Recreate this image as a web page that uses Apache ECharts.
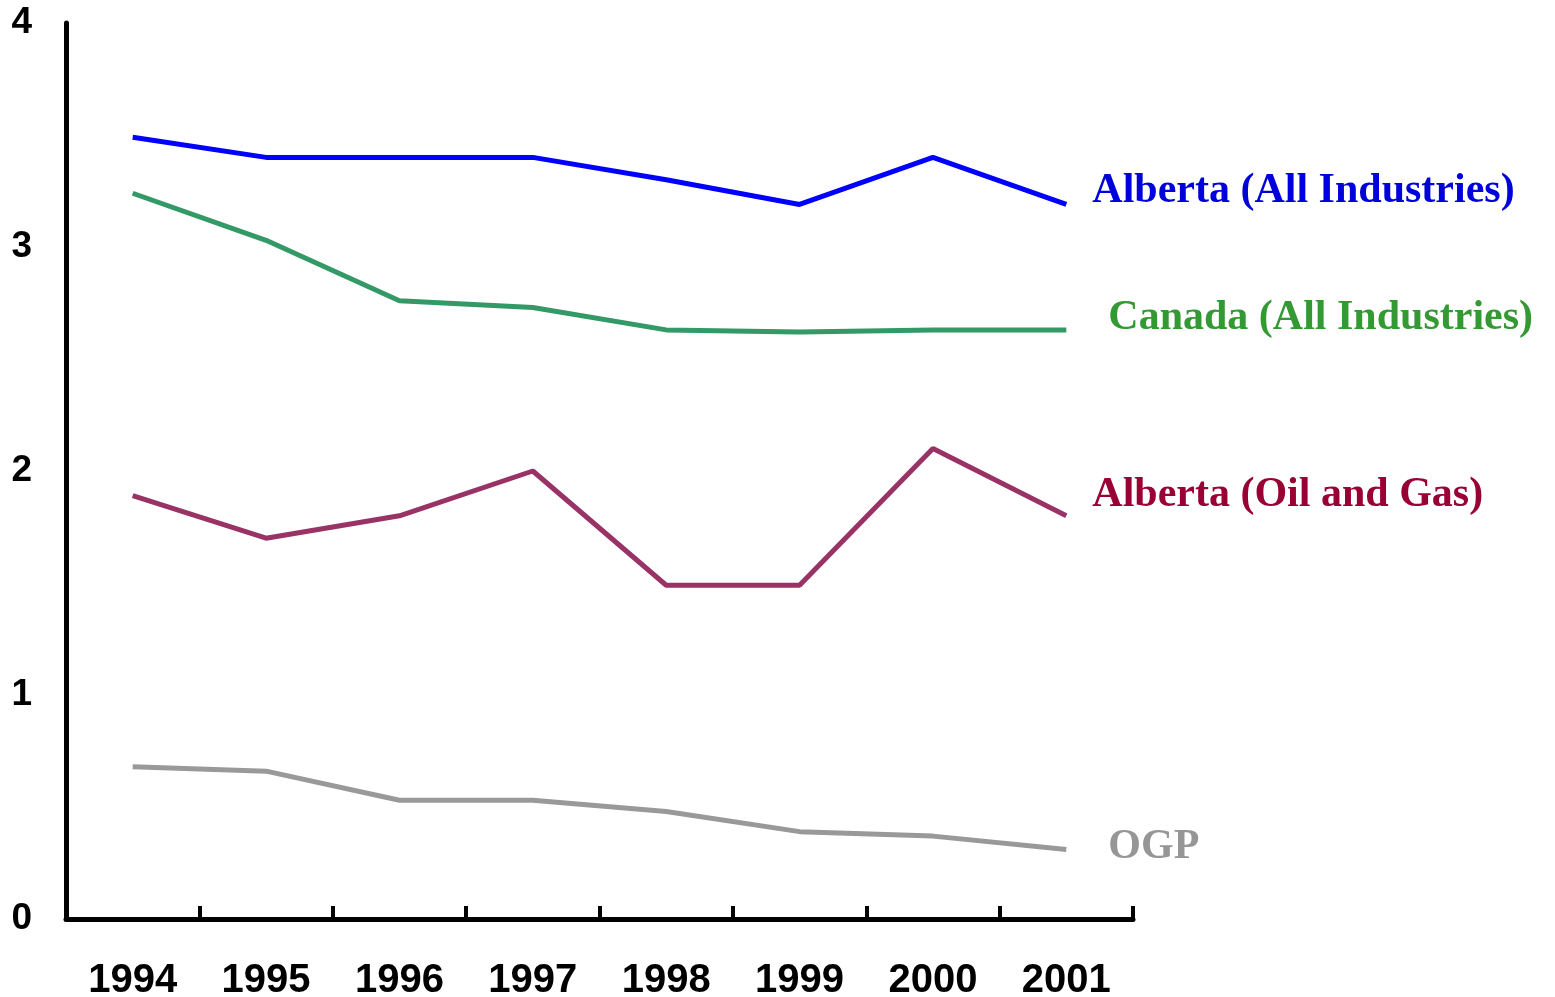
<!DOCTYPE html>
<html>
<head>
<meta charset="utf-8">
<script src="https://cdn.jsdelivr.net/npm/echarts@6/dist/echarts.min.js"></script>
<style>
html,body{margin:0;padding:0;background:#fff;}
#chart{width:1555px;height:997px;}
</style>
</head>
<body>
<div id="chart"></div>
<script>
const years = ['1994','1995','1996','1997','1998','1999','2000','2001'];
const albertaAll = [3.49, 3.40, 3.40, 3.40, 3.30, 3.19, 3.40, 3.19];
const canadaAll = [3.24, 3.03, 2.76, 2.73, 2.63, 2.62, 2.63, 2.63];
const albertaOG = [1.89, 1.70, 1.80, 2.00, 1.49, 1.49, 2.10, 1.80];
const ogp = [0.68, 0.66, 0.53, 0.53, 0.48, 0.39, 0.37, 0.31];

const names = ['Alberta (All Industries)', 'Canada (All Industries)', 'Alberta (Oil and Gas)', 'OGP'];
const lineColors = ['#0000ff', '#339966', '#993366', '#999999'];
const labelColors = ['#0000dd', '#339933', '#990033', '#969696'];
const offsets = [[26, -13], [42, -12], [26, -21], [42, -2]];
const datasets = [albertaAll, canadaAll, albertaOG, ogp];

const chart = echarts.init(document.getElementById('chart'));
chart.setOption({
  animation: false,
  grid: {left: 66, right: 422, top: 23, bottom: 78, containLabel: false, outerBoundsMode: 'none'},
  xAxis: {
    type: 'category',
    data: years,
    boundaryGap: true,
    axisLine: {lineStyle: {color: '#000', width: 5, cap: 'round'}},
    axisTick: {show: true, inside: true, length: 13, lineStyle: {color: '#000', width: 4}},
    axisLabel: {color: '#000', fontFamily: 'Liberation Sans, Arial', fontWeight: 'bold', fontSize: 40, margin: 42}
  },
  yAxis: {
    type: 'value',
    min: 0, max: 4, interval: 1,
    splitLine: {show: false},
    axisLine: {show: true, lineStyle: {color: '#000', width: 5, cap: 'round'}},
    axisTick: {show: false},
    axisLabel: {color: '#000', fontFamily: 'Liberation Sans, Arial', fontWeight: 'bold', fontSize: 37, margin: 34}
  },
  series: datasets.map((d, i) => ({
    name: names[i],
    type: 'line',
    data: d,
    symbol: 'none',
    lineStyle: {color: lineColors[i], width: 5},
    endLabel: {
      show: true,
      formatter: names[i],
      color: labelColors[i],
      fontFamily: 'Liberation Serif, Times New Roman',
      fontWeight: 'bold',
      fontSize: 42,
      distance: 0,
      offset: offsets[i]
    }
  }))
});
</script>
</body>
</html>
